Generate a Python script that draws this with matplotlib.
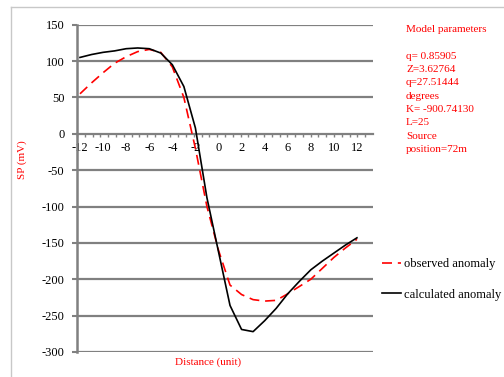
import matplotlib
matplotlib.use("Agg")
import matplotlib.pyplot as plt
from matplotlib.lines import Line2D
import numpy as np

plt.rcParams['font.family'] = ['Liberation Serif', 'DejaVu Serif']

# Distance along the profile (unit)
distance = list(range(-12, 13))

# Observed SP anomaly (mV)
observed = [55, 70, 84, 97, 106, 113, 116, 112, 92, 50, -20, -100,
            -160, -208, -221, -228, -230, -229, -220, -210, -200, -185,
            -170, -157, -145]

# Calculated SP anomaly (mV)
calculated = [105, 109, 112, 114, 117, 118, 117, 111, 95, 65, 8, -88,
              -162, -236, -269, -272, -257, -240, -220, -203, -187, -175,
              -164, -153, -143]

y_ticks = [150, 100, 50, 0, -50, -100, -150, -200, -250, -300]
x_ticks = list(range(-12, 13, 2))

params_text = ("Model parameters\n\nq= 0.85905\nZ=3.62764\nq=27.51444\n"
               "degrees\nK= -900.74130\nL=25\nSource\nposition=72m")

W, H = 504, 377
fig = plt.figure(figsize=(W / 100, H / 100), dpi=100)
ax = fig.add_axes([77 / W, 1 - 352 / H, (373 - 77) / W, (352 - 24.7) / H])

grid_col = '#808080'
ax.set_ylim(-300, 150)
ax.set_xlim(-12.26, 13.39)

for v in y_ticks:
    if v != 0:
        ax.axhline(v, color=grid_col, lw=1.6, zorder=1)

ax.plot(distance, observed, color='#ff0000', lw=1.2, dashes=(6, 3.5),
        zorder=3, label='observed anomaly')
ax.plot(distance, calculated, color='black', lw=1.2, zorder=4,
        label='calculated anomaly')

for s in ['top', 'right']:
    ax.spines[s].set_visible(False)
ax.spines['left'].set_color(grid_col)
ax.spines['left'].set_linewidth(1.8)
ax.spines['bottom'].set_position(('data', 0))
ax.spines['bottom'].set_color(grid_col)
ax.spines['bottom'].set_linewidth(1.6)
ax.spines['bottom'].set_zorder(1)

ax.set_yticks(y_ticks)
ax.set_yticklabels([str(v) for v in y_ticks])
ax.tick_params(axis='y', length=3.6, width=1.5, color=grid_col, pad=5.5,
               labelsize=9, labelcolor='black')

ax.set_xticks(x_ticks)
ax.set_xticklabels([str(v) for v in x_ticks])
ax.tick_params(axis='x', which='major', length=0, pad=6, labelsize=9)
lo, hi = ax.get_xlim()
ax.set_xticks(np.arange(lo, hi, (hi - lo) / 38), minor=True)
ax.tick_params(axis='x', which='minor', length=2.2, width=1.0,
               color=grid_col, direction='out')

fig.text(22 / W, 1 - 160 / H, 'SP (mV)', color='#ff0000', fontsize=8,
         rotation=90, ha='center', va='center')
fig.text(208 / W, 1 - 362 / H, 'Distance (unit)', color='#ff0000',
         fontsize=8, ha='center', va='center')

fig.text(406 / W, 1 - 25 / H, params_text, color='#ff0000', fontsize=8,
         ha='left', va='top', linespacing=1.62)

leg = fig.legend(loc='upper left', bbox_to_anchor=(382 / W, 1 - 258 / H),
                 frameon=False, fontsize=9, handlelength=1.5,
                 handletextpad=0.3, labelspacing=1.5, borderaxespad=0,
                 borderpad=0)

# light frame around the chart area
fig.add_artist(Line2D([10.5 / W, 1], [1 - 7 / H, 1 - 7 / H],
                      color='#c8c8c8', lw=1.0))
fig.add_artist(Line2D([10.5 / W, 10.5 / W], [0, 1 - 7 / H],
                      color='#c8c8c8', lw=1.0))

fig.savefig('out.png', dpi=100)
